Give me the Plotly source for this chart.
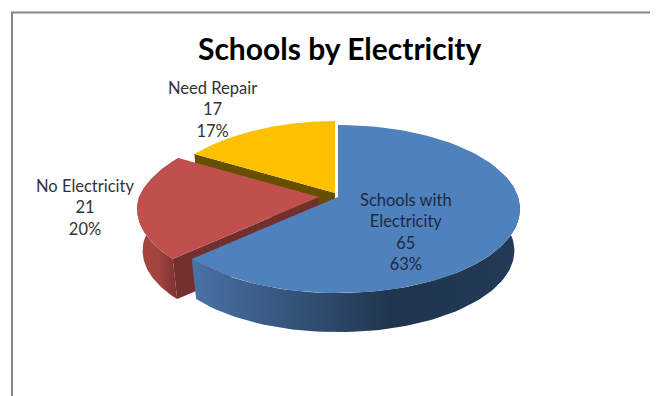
import numpy as np
import plotly.graph_objects as go

# Data
title_text = "Schools by Electricity"
categories = ["Schools with<br>Electricity", "No Electricity", "Need Repair"]
values = [65, 21, 17]
percents = ["63%", "20%", "17%"]

# Style / projection settings
top_colors = ["#4F81BD", "#C0504D", "#FFC000"]
cut_colors = [None, "#722F2E", "#665000"]
apexes = [(338, 197), (319, 197), (335, 193)]
R, RK, P, P_FAR_LEFT = 180, 82.3, 0.143, 0.2
DEPTH, BOTTOM_SCALE = 42, 0.97

total = sum(values)
edges = np.cumsum([0] + values) / total * 2 * np.pi


def project(theta, apex, lower=False):
    s = 1 / (1 + P * np.cos(theta))
    far_left = (theta > 1.5 * np.pi)
    sx = np.where(far_left, 1 / (1 + P_FAR_LEFT * np.cos(theta)), s)
    k = BOTTOM_SCALE if lower else 1.0
    x = apex[0] + k * R * np.sin(theta) * sx
    y = apex[1] - k * RK * np.cos(theta) * s + (DEPTH if lower else 0)
    return x, y


def arc(a, b, apex, lower=False):
    return project(np.linspace(a, b, 90), apex, lower)


def add_poly(fig, x, y, color=None, gradient=None):
    kw = dict(x=list(x) + [x[0]], y=list(y) + [y[0]], mode="lines",
              line=dict(width=0), fill="toself", hoverinfo="skip", showlegend=False)
    if gradient:
        kw["fillgradient"] = dict(type="horizontal", colorscale=gradient)
    else:
        kw["fillcolor"] = color
    fig.add_trace(go.Scatter(**kw))


def add_cut(fig, i, theta):
    ap = apexes[i]
    ox, oy = project(np.array([theta]), ap)
    bx, by = project(np.array([theta]), ap, True)
    add_poly(fig, [ap[0], ox[0], bx[0], ap[0]], [ap[1], oy[0], by[0], ap[1] + DEPTH], cut_colors[i])


def add_side(fig, i, a, b, gradient):
    tx, ty = arc(a, b, apexes[i])
    bx, by = arc(a, b, apexes[i], True)
    add_poly(fig, np.r_[tx, bx[::-1]], np.r_[ty, by[::-1]], gradient=gradient)


def add_top(fig, i):
    ap = apexes[i]
    x, y = arc(edges[i], edges[i + 1], ap)
    add_poly(fig, np.r_[ap[0], x], np.r_[ap[1], y], top_colors[i])


fig = go.Figure()

# back to front: yellow, red, blue
add_cut(fig, 2, edges[2])
add_top(fig, 2)

add_side(fig, 1, edges[1], edges[2],
         [[0, "#A5443F"], [0.45, "#A5443F"], [1, "#6E2C2B"]])
add_cut(fig, 1, edges[1])
add_top(fig, 1)

add_side(fig, 0, np.radians(75), edges[1],
         [[0, "#4A72A6"], [0.62, "#1F344D"], [1, "#223B58"]])
add_top(fig, 0)

label_positions = [(406, 232), (85, 207), (212, 109)]
label_inks = ["#1B2A40", "#333333", "#333333"]
annotations = [
    dict(x=pos[0], y=pos[1], text="%s<br>%d<br>%s" % (c, v, p), showarrow=False,
         font=dict(family="Lato", size=16.5, color=ink), align="center",
         xanchor="center", yanchor="middle")
    for c, v, p, pos, ink in zip(categories, values, percents, label_positions, label_inks)
]
annotations.append(dict(x=339, y=48, text="<b>%s</b>" % title_text, showarrow=False,
                        font=dict(family="Lato", size=30, color="#000000"),
                        xanchor="center", yanchor="middle"))

frame = "#868686"
# The page keeps an 8px body margin, so the plot area covers page pixels 8..658 and 8..396.
fig.update_layout(
    width=650, height=388, autosize=False,
    margin=dict(l=0, r=0, t=0, b=0),
    paper_bgcolor="white", plot_bgcolor="white",
    xaxis=dict(range=[8, 658], visible=False, fixedrange=True),
    yaxis=dict(range=[396, 8], visible=False, fixedrange=True),
    annotations=annotations,
    shapes=[
        dict(type="line", x0=12, x1=12, y0=12.5, y1=396, line=dict(color=frame, width=2)),
        dict(type="line", x0=11, x1=658, y0=12.5, y1=12.5, line=dict(color=frame, width=2)),
    ],
)
fig.write_html("out.html", config={"displayModeBar": False})
